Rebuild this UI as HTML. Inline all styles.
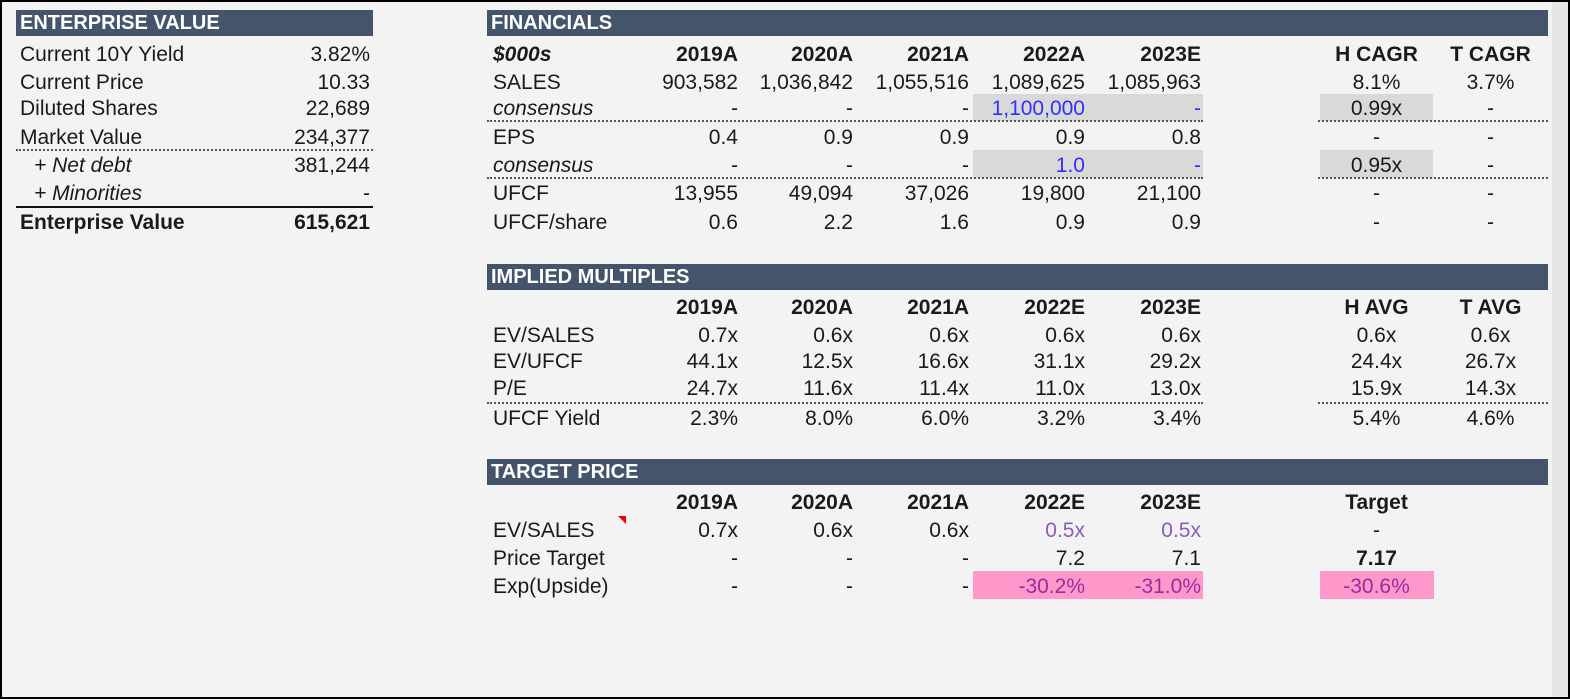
<!DOCTYPE html>
<html><head><meta charset="utf-8"><style>
body{margin:0;width:1570px;height:700px;overflow:hidden;background:#fff;font-family:"Liberation Sans",sans-serif;}
#frame{position:absolute;left:0;top:0;width:1566px;height:695px;border:2px solid #000;background:#f3f3f3;overflow:hidden}
#strip{position:absolute;left:1550px;top:0;width:20px;height:700px;background:#e6e6e6}
.c{position:absolute;font-size:21px;line-height:28px;height:28px;color:#1a1a1a;white-space:nowrap}
.h{position:absolute;background:#44546a;color:#fff;font-weight:bold;font-size:20px;line-height:27px;padding-left:4px;box-sizing:border-box}
.b{position:absolute}
</style></head><body>
<div id="frame">
<div id="strip"></div>
</div>
<script>
var F=document.getElementById('frame');
function box(x,y,w,h,css,name){var d=document.createElement('div');d.className='b';d.style.cssText='left:'+(x-2)+'px;top:'+(y-2)+'px;width:'+w+'px;height:'+h+'px;'+css;


F.appendChild(d);}
function hdr(x,y,w,t,name){var d=document.createElement('div');d.className='h';d.style.cssText='left:'+(x-2)+'px;top:'+(y-2)+'px;width:'+w+'px;height:26px;';d.textContent=t;


F.appendChild(d);}
function cell(x,cy,w,t,al,css,name){var d=document.createElement('div');d.className='c';d.style.cssText='left:'+(x-2)+'px;top:'+(cy-14)+'px;width:'+w+'px;text-align:'+al+';'+(css||'');d.textContent=t;


F.appendChild(d);}
box(973,94,230,27,'background:#d9d9d9','consensus-sales-highlight');
box(1320,94,113,27,'background:#d9d9d9','consensus-sales-ratio-highlight');
box(973,150,230,28,'background:#d9d9d9','consensus-eps-highlight');
box(1320,150,113,28,'background:#d9d9d9','consensus-eps-ratio-highlight');
box(973,571,230,28,'background:#ff99cc','upside-highlight');
box(1320,571,114,28,'background:#ff99cc','target-upside-highlight');
hdr(16,10,357,'ENTERPRISE VALUE','enterprise-value-header');
hdr(487,10,1061,'FINANCIALS','financials-header');
hdr(487,264,1061,'IMPLIED MULTIPLES','implied-multiples-header');
hdr(487,459,1061,'TARGET PRICE','target-price-header');
var dot='border-top:2px dotted #555;';
box(16,149,357,0,dot,'divider');box(16,206,357,0,'border-top:2px solid #111;','total-line');
box(487,120,716,0,dot,'divider');box(1318,120,230,0,dot,'divider');
box(487,177,716,0,dot,'divider');box(1318,177,230,0,dot,'divider');
box(487,402,716,0,dot,'divider');box(1318,402,230,0,dot,'divider');
box(618,516,0,0,'border-left:8px solid transparent;border-top:8px solid #e00;','comment-marker');
var evLabels=['Current 10Y Yield','Current Price','Diluted Shares','Market Value','  + Net debt','  + Minorities','Enterprise Value'];
var evValues=['3.82%','10.33','22,689','234,377','381,244','-','615,621'];
var evY=[53,81,107,136,164,192,221];
for(var i=0;i<7;i++){var it=(i==4||i==5),bd=(i==6);
cell(20+(it?14:0),evY[i],200,evLabels[i].trim(),'left',(it?'font-style:italic;':'')+(bd?'font-weight:bold;':''),'ev-label');
cell(220,evY[i],150,evValues[i],'right',bd?'font-weight:bold;':'','ev-value');}
var colR=[738,853,969,1085,1201];
function row(y,label,vals,ext,opts){opts=opts||{};
cell(493,y,200,label,'left',opts.lab||'','row-label');
for(var j=0;j<vals.length;j++){cell(colR[j]-150,y,150,vals[j],'right',(opts.st&&opts.st[j])||opts.all||'','row-value');}
if(ext){cell(1320,y,113,ext[0],'center',(opts.e0||opts.all||''),'ext-value');if(ext.length>1)cell(1434,y,113,ext[1],'center',opts.all||'','ext-value');}}
var B='font-weight:bold;',BL='color:#3030ff;',PU='color:#8a5cc0;',PK='color:#9b2c9b;';
var finYears=['2019A','2020A','2021A','2022A','2023E'];
var sales=['903,582','1,036,842','1,055,516','1,089,625','1,085,963'];
var salesCons=['-','-','-','1,100,000','-'];
var eps=['0.4','0.9','0.9','0.9','0.8'];
var epsCons=['-','-','-','1.0','-'];
var ufcf=['13,955','49,094','37,026','19,800','21,100'];
var ufcfShare=['0.6','2.2','1.6','0.9','0.9'];
row(53,'$000s',finYears,['H CAGR','T CAGR'],{lab:B+'font-style:italic;',all:B});
row(81,'SALES',sales,['8.1%','3.7%']);
row(107,'consensus',salesCons,['0.99x','-'],{lab:'font-style:italic;',st:['','','',BL,BL]});
row(136,'EPS',eps,['-','-']);
row(164,'consensus',epsCons,['0.95x','-'],{lab:'font-style:italic;',st:['','','',BL,BL]});
row(192,'UFCF',ufcf,['-','-']);
row(221,'UFCF/share',ufcfShare,['-','-']);
var impYears=['2019A','2020A','2021A','2022E','2023E'];
var evSales=['0.7x','0.6x','0.6x','0.6x','0.6x'];
var evUfcf=['44.1x','12.5x','16.6x','31.1x','29.2x'];
var pe=['24.7x','11.6x','11.4x','11.0x','13.0x'];
var ufcfYield=['2.3%','8.0%','6.0%','3.2%','3.4%'];
row(306,'',impYears,['H AVG','T AVG'],{all:B});
row(334,'EV/SALES',evSales,['0.6x','0.6x']);
row(360,'EV/UFCF',evUfcf,['24.4x','26.7x']);
row(387,'P/E',pe,['15.9x','14.3x']);
row(417,'UFCF Yield',ufcfYield,['5.4%','4.6%']);
var tEvSales=['0.7x','0.6x','0.6x','0.5x','0.5x'];
var priceTarget=['-','-','-','7.2','7.1'];
var upside=['-','-','-','-30.2%','-31.0%'];
row(501,'',impYears,['Target'],{all:B});
row(529,'EV/SALES',tEvSales,['-'],{st:['','','',PU,PU]});
row(557,'Price Target',priceTarget,['7.17'],{e0:B});
row(585,'Exp(Upside)',upside,['-30.6%'],{st:['','','',PK,PK],e0:PK});
</script>
</body></html>
